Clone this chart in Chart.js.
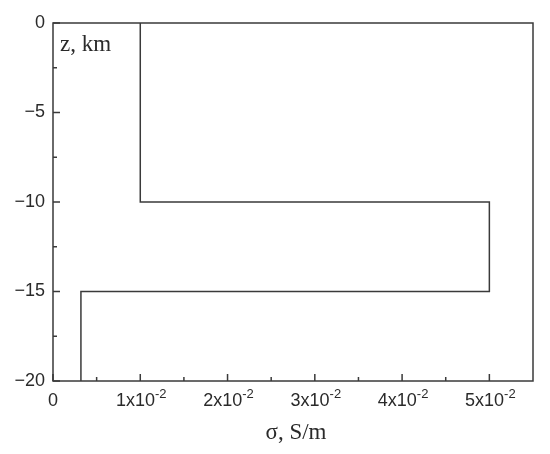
<!DOCTYPE html>
<html>
<head>
<meta charset="utf-8">
<script src="https://cdn.jsdelivr.net/npm/chart.js@4/dist/chart.umd.min.js"></script>
<style>
  html, body { margin: 0; padding: 0; background: #fff; }
  #wrap { width: 550px; height: 454px; }
</style>
</head>
<body>
<div id="wrap"><canvas id="profile"></canvas></div>
<script>
'use strict';

// conductivity profile (step model)
const sigma = [0.01, 0.01, 0.05, 0.05, 0.0032, 0.0032];
const depth = [0, -10, -10, -15, -15, -20];

const xTicks = [0, 0.01, 0.02, 0.03, 0.04, 0.05];
const xTickMant = ['0', '1', '2', '3', '4', '5'];
const xMinor = [0.005, 0.015, 0.025, 0.035, 0.045];
const yTicks = [0, -5, -10, -15, -20];
const yTickLabels = ['0', '\u22125', '\u221210', '\u221215', '\u221220'];
const yMinor = [-2.5, -7.5, -12.5, -17.5];

const LINE = '#3a3a3a';
const TEXT = '#2a2a2a';
const SANS = '"Liberation Sans", Arial, sans-serif';
const SERIF = '"Liberation Serif", "Times New Roman", serif';

const framePlugin = {
    id: 'frame',
    afterDraw(chart) {
        const { ctx, chartArea: a, scales } = chart;
        const xs = scales.x, ys = scales.y;
        ctx.save();
        ctx.strokeStyle = LINE;
        ctx.lineWidth = 1.5;
        ctx.strokeRect(a.left, a.top, a.right - a.left, a.bottom - a.top);

        // inward ticks
        ctx.beginPath();
        xTicks.forEach(v => {
            const px = xs.getPixelForValue(v);
            ctx.moveTo(px, a.bottom); ctx.lineTo(px, a.bottom - 7);
        });
        xMinor.forEach(v => {
            const px = xs.getPixelForValue(v);
            ctx.moveTo(px, a.bottom); ctx.lineTo(px, a.bottom - 4);
        });
        yTicks.forEach(v => {
            const py = ys.getPixelForValue(v);
            ctx.moveTo(a.left, py); ctx.lineTo(a.left + 7, py);
        });
        yMinor.forEach(v => {
            const py = ys.getPixelForValue(v);
            ctx.moveTo(a.left, py); ctx.lineTo(a.left + 4, py);
        });
        ctx.stroke();

        // y labels
        ctx.fillStyle = TEXT;
        ctx.font = '18px ' + SANS;
        ctx.textAlign = 'right';
        ctx.textBaseline = 'middle';
        yTicks.forEach((v, i) => {
            ctx.fillText(yTickLabels[i], a.left - 8, ys.getPixelForValue(v));
        });

        // x labels with superscript exponent
        ctx.textBaseline = 'alphabetic';
        xTicks.forEach((v, i) => {
            const px = xs.getPixelForValue(v);
            const y0 = a.bottom + 25;
            ctx.font = '18px ' + SANS;
            if (i === 0) {
                ctx.textAlign = 'center';
                ctx.fillText(xTickMant[i], px, y0);
                return;
            }
            const main = xTickMant[i] + 'x10';
            const wMain = ctx.measureText(main).width;
            ctx.font = '13px ' + SANS;
            const sup = '-2';
            const wSup = ctx.measureText(sup).width;
            const start = px - (wMain + wSup) / 2 + 1;
            ctx.textAlign = 'left';
            ctx.font = '18px ' + SANS;
            ctx.fillText(main, start, y0);
            ctx.font = '13px ' + SANS;
            ctx.fillText(sup, start + wMain, y0 - 8);
        });

        // titles
        ctx.font = '23px ' + SERIF;
        ctx.textAlign = 'center';
        ctx.fillText('\u03c3, S/m', (a.left + a.right) / 2 + 3, a.bottom + 58);
        ctx.textAlign = 'left';
        ctx.fillText('z, km', a.left + 7, a.top + 28);
        ctx.restore();
    }
};

new Chart(document.getElementById('profile'), {
    type: 'scatter',
    data: {
        datasets: [{
            data: sigma.map((s, i) => ({ x: s, y: depth[i] })),
            showLine: true,
            borderColor: LINE,
            borderWidth: 1.5,
            pointRadius: 0,
            tension: 0
        }]
    },
    options: {
        responsive: true,
        maintainAspectRatio: false,
        animation: false,
        layout: { padding: { left: 53, right: 17, top: 23, bottom: 73 } },
        plugins: {
            legend: { display: false },
            tooltip: { enabled: false }
        },
        scales: {
            x: {
                type: 'linear',
                min: 0, max: 0.055,
                grid: { display: false, drawTicks: false },
                border: { display: false },
                ticks: { display: false }
            },
            y: {
                type: 'linear',
                min: -20, max: 0,
                grid: { display: false, drawTicks: false },
                border: { display: false },
                ticks: { display: false }
            }
        }
    },
    plugins: [framePlugin]
});
</script>
</body>
</html>
